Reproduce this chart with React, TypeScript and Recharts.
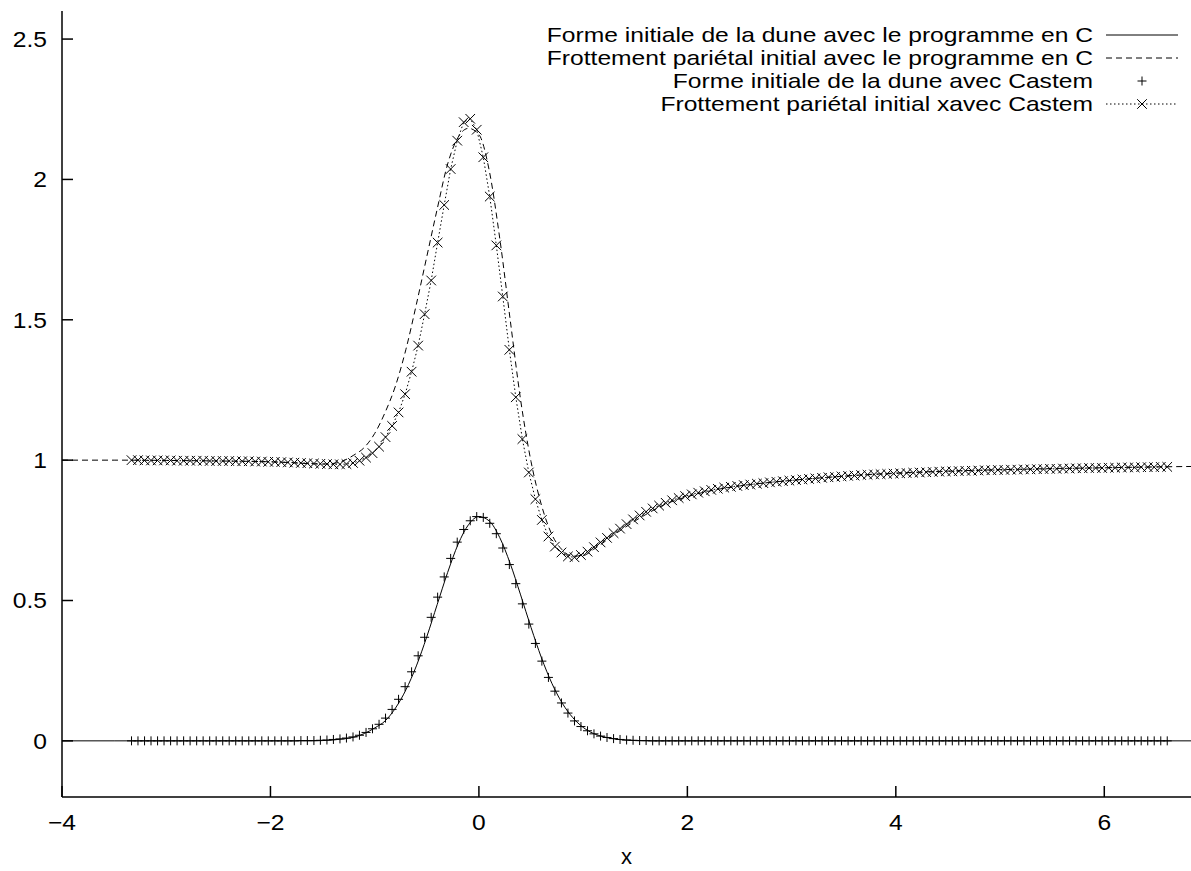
import React from 'react';
import { LineChart, Line, XAxis, YAxis, Legend } from 'recharts';

// Castem mesh (points drawn with markers)
const castemX = [
  -3.333, -3.271, -3.208, -3.146, -3.083, -3.021, -2.958, -2.896, -2.833, -2.771, -2.708, -2.646, -2.583, -2.521, -2.458, -2.396,
  -2.333, -2.271, -2.208, -2.146, -2.083, -2.021, -1.958, -1.896, -1.833, -1.771, -1.708, -1.646, -1.583, -1.521, -1.458, -1.396,
  -1.333, -1.271, -1.208, -1.146, -1.083, -1.021, -0.958, -0.896, -0.833, -0.771, -0.708, -0.646, -0.583, -0.521, -0.458, -0.396,
  -0.333, -0.271, -0.208, -0.146, -0.083, -0.021, 0.042, 0.104, 0.167, 0.229, 0.292, 0.354, 0.417, 0.479, 0.542, 0.604,
  0.667, 0.729, 0.792, 0.854, 0.917, 0.979, 1.042, 1.104, 1.167, 1.229, 1.292, 1.354, 1.417, 1.479, 1.542, 1.604,
  1.667, 1.729, 1.792, 1.854, 1.917, 1.979, 2.042, 2.104, 2.167, 2.229, 2.292, 2.354, 2.417, 2.479, 2.542, 2.604,
  2.667, 2.729, 2.792, 2.854, 2.917, 2.979, 3.042, 3.104, 3.167, 3.229, 3.292, 3.354, 3.417, 3.479, 3.542, 3.604,
  3.667, 3.729, 3.792, 3.854, 3.917, 3.979, 4.042, 4.104, 4.167, 4.229, 4.292, 4.354, 4.417, 4.479, 4.542, 4.604,
  4.667, 4.729, 4.792, 4.854, 4.917, 4.979, 5.042, 5.104, 5.167, 5.229, 5.292, 5.354, 5.417, 5.479, 5.542, 5.604,
  5.667, 5.729, 5.792, 5.854, 5.917, 5.979, 6.042, 6.104, 6.167, 6.229, 6.292, 6.354, 6.417, 6.479, 6.542, 6.604,
];

const castemForme = [
  0, 0, 0, 0, 0, 0, 0, 0, 0, 0, 0, 0, 0, 0, 0, 0,
  0, 0, 0, 0, 0, 0, 0, 0, 0, 0, 0.001, 0.001, 0.001, 0.002, 0.003, 0.005,
  0.007, 0.01, 0.014, 0.02, 0.03, 0.043, 0.059, 0.081, 0.112, 0.148, 0.193, 0.246, 0.303, 0.369, 0.44, 0.512,
  0.584, 0.65, 0.708, 0.753, 0.784, 0.799, 0.796, 0.775, 0.738, 0.687, 0.628, 0.56, 0.488, 0.416, 0.347, 0.284,
  0.226, 0.177, 0.135, 0.099, 0.071, 0.051, 0.036, 0.025, 0.017, 0.012, 0.008, 0.005, 0.003, 0.002, 0.001, 0.001,
  0, 0, 0, 0, 0, 0, 0, 0, 0, 0, 0, 0, 0, 0, 0, 0,
  0, 0, 0, 0, 0, 0, 0, 0, 0, 0, 0, 0, 0, 0, 0, 0,
  0, 0, 0, 0, 0, 0, 0, 0, 0, 0, 0, 0, 0, 0, 0, 0,
  0, 0, 0, 0, 0, 0, 0, 0, 0, 0, 0, 0, 0, 0, 0, 0,
  0, 0, 0, 0, 0, 0, 0, 0, 0, 0, 0, 0, 0, 0, 0, 0,
];

const castemFrott = [
  1.0, 1.0, 0.999, 0.999, 0.999, 0.999, 0.999, 0.998, 0.998, 0.998, 0.998, 0.998, 0.997, 0.997, 0.997, 0.997,
  0.996, 0.996, 0.996, 0.995, 0.995, 0.994, 0.994, 0.993, 0.992, 0.991, 0.99, 0.989, 0.988, 0.987, 0.986, 0.985,
  0.985, 0.986, 0.99, 0.998, 1.009, 1.025, 1.048, 1.082, 1.122, 1.17, 1.235, 1.315, 1.408, 1.52, 1.64, 1.775,
  1.909, 2.037, 2.138, 2.204, 2.216, 2.177, 2.079, 1.939, 1.765, 1.583, 1.393, 1.224, 1.075, 0.956, 0.861, 0.787,
  0.728, 0.692, 0.671, 0.657, 0.654, 0.662, 0.674, 0.69, 0.707, 0.723, 0.74, 0.756, 0.772, 0.789, 0.803, 0.816,
  0.828, 0.838, 0.848, 0.857, 0.865, 0.872, 0.878, 0.884, 0.889, 0.894, 0.898, 0.902, 0.905, 0.908, 0.911, 0.913,
  0.916, 0.918, 0.921, 0.923, 0.925, 0.927, 0.929, 0.931, 0.933, 0.935, 0.937, 0.939, 0.94, 0.942, 0.944, 0.945,
  0.947, 0.948, 0.949, 0.95, 0.951, 0.952, 0.953, 0.954, 0.955, 0.956, 0.957, 0.958, 0.959, 0.96, 0.96, 0.961,
  0.962, 0.962, 0.963, 0.964, 0.964, 0.965, 0.965, 0.966, 0.966, 0.967, 0.967, 0.968, 0.968, 0.969, 0.969, 0.97,
  0.97, 0.971, 0.971, 0.972, 0.972, 0.972, 0.973, 0.973, 0.974, 0.974, 0.974, 0.975, 0.975, 0.975, 0.976, 0.976,
];

// C program curves
const cX = [
  -4, -3.5, -3, -2.5, -2, -1.8, -1.6, -1.5, -1.4, -1.3, -1.2, -1.1, -1.0, -0.9, -0.8, -0.7, -0.6, -0.5, -0.4, -0.3, -0.2, -0.1,
  0, 0.1, 0.2, 0.3, 0.4, 0.5, 0.6, 0.7, 0.8, 0.9, 1.0, 1.1, 1.2, 1.3, 1.4, 1.5, 1.6, 1.8, 2.0, 2.25, 2.5, 3, 3.5, 4, 4.5, 5, 5.5, 6, 6.5, 7,
];
const cForme = [
  0, 0, 0, 0, 0, 0, 0, 0.001, 0.003, 0.007, 0.013, 0.026, 0.046, 0.071, 0.117, 0.182, 0.267, 0.371, 0.486, 0.6, 0.7, 0.77,
  0.799, 0.783, 0.724, 0.632, 0.52, 0.404, 0.296, 0.205, 0.134, 0.083, 0.048, 0.026, 0.014, 0.007, 0.003, 0.001, 0, 0, 0, 0, 0, 0, 0, 0, 0, 0, 0, 0, 0, 0,
];
const cFrott = [
  1.0, 1.0, 0.999, 0.997, 0.994, 0.991, 0.987, 0.986, 0.988, 0.998, 1.018, 1.045, 1.095, 1.17, 1.265, 1.395, 1.555, 1.725, 1.895, 2.055, 2.15, 2.182,
  2.16, 2.03, 1.79, 1.5, 1.215, 0.995, 0.84, 0.735, 0.68, 0.658, 0.66, 0.682, 0.708, 0.735, 0.76, 0.784, 0.806, 0.845, 0.87, 0.893, 0.908, 0.928, 0.943, 0.954, 0.961, 0.966, 0.97, 0.973, 0.976, 0.978,
];

const xTicks = [-4, -2, 0, 2, 4, 6];
const yTicks = [0, 0.5, 1, 1.5, 2, 2.5];
const seriesNames = [
  'Forme initiale de la dune avec le programme en C',
  'Frottement pariétal initial avec le programme en C',
  'Forme initiale de la dune avec Castem',
  'Frottement pariétal initial xavec Castem',
];

const FONT = '"Liberation Sans", Arial, Helvetica, sans-serif';
const FS = 22;
const STRETCH = 1.12; // the original Helvetica is wider than it is tall
const LEG_FS = 20.5;
const LEG_STRETCH = (STRETCH * FS) / LEG_FS;

const cData = cX.map((x, i) => ({ x, forme: cForme[i], frott: cFrott[i] }));
const castemData = castemX.map((x, i) => ({ x, forme: castemForme[i], frott: castemFrott[i] }));

const plusPath = (cx: number, cy: number, r = 4.5) =>
  `M${cx - r},${cy}H${cx + r}M${cx},${cy - r}V${cy + r}`;
const crossPath = (cx: number, cy: number, r = 4.8) =>
  `M${cx - r},${cy - r}L${cx + r},${cy + r}M${cx - r},${cy + r}L${cx + r},${cy - r}`;

const PlusDot = (props: any) => {
  const { cx, cy, index } = props;
  if (cx == null || cy == null) return <g key={`p${index}`} />;
  return <path key={`p${index}`} d={plusPath(cx, cy)} stroke="#000" strokeWidth={1} fill="none" />;
};

const CrossDot = (props: any) => {
  const { cx, cy, index } = props;
  if (cx == null || cy == null) return <g key={`c${index}`} />;
  return <path key={`c${index}`} d={crossPath(cx, cy)} stroke="#000" strokeWidth={1} fill="none" />;
};

const fmtX = (v: number) => (v < 0 ? `\u2212${Math.abs(v)}` : `${v}`);

const XTick = (props: any) => {
  const { x, y, payload } = props;
  return (
    <g transform={`translate(${x},${y}) scale(${STRETCH},1)`}>
      <text x={0} y={0} dy="0.71em" textAnchor="middle" fontFamily={FONT} fontSize={FS} fill="#000">
        {fmtX(payload.value)}
      </text>
    </g>
  );
};

const YTick = (props: any) => {
  const { x, y, payload } = props;
  return (
    <g transform={`translate(${x},${y}) scale(${STRETCH},1)`}>
      <text x={0} y={0} dy="0.355em" textAnchor="end" fontFamily={FONT} fontSize={FS} fill="#000">
        {payload.value}
      </text>
    </g>
  );
};

const LegendBox = () => {
  const textRight = 1093;
  const x1 = 1106;
  const x2 = 1178;
  const xm = (x1 + x2) / 2;
  return (
    <svg width={1191} height={120} style={{ display: 'block' }}>
      {seriesNames.map((name, i) => {
        const y = 35 + i * 23;
        return (
          <g key={name}>
            <g transform={`translate(${textRight},${y}) scale(${LEG_STRETCH},1)`}>
              <text x={0} y={0} dy="0.355em" textAnchor="end" fontFamily={FONT} fontSize={LEG_FS} fill="#000">
                {name}
              </text>
            </g>
            {i === 0 && <line x1={x1} x2={x2} y1={y} y2={y} stroke="#000" strokeWidth={1} />}
            {i === 1 && (
              <line x1={x1} x2={x2} y1={y} y2={y} stroke="#000" strokeWidth={1} strokeDasharray="6 4" />
            )}
            {i === 2 && <path d={plusPath(xm, y)} stroke="#000" strokeWidth={1} />}
            {i === 3 && (
              <g>
                <line x1={x1} x2={x2} y1={y} y2={y} stroke="#000" strokeWidth={1} strokeDasharray="1.5 2.5" />
                <path d={crossPath(xm, y)} stroke="#000" strokeWidth={1} />
              </g>
            )}
          </g>
        );
      })}
    </svg>
  );
};

export default function App() {
  return (
    <div style={{ position: 'absolute', left: 0, top: 0, width: 1191, height: 871, background: '#fff' }}>
      <LineChart width={1191} height={871} margin={{ top: 11, right: 0, bottom: 0, left: 0 }}>
        <XAxis
          dataKey="x"
          type="number"
          domain={[-4, 6.832]}
          ticks={xTicks}
          allowDataOverflow
          height={74}
          tickSize={-11}
          tickMargin={28}
          tick={<XTick />}
          axisLine={{ stroke: '#000', strokeWidth: 1.5 }}
          tickLine={{ stroke: '#000', strokeWidth: 1.5 }}
          label={{ value: 'x', position: 'insideBottom', offset: 7, style: { fontFamily: FONT, fontSize: FS, fill: '#000' } }}
        />
        <XAxis
          xAxisId="top"
          orientation="top"
          dataKey="x"
          type="number"
          domain={[-4, 6.832]}
          ticks={xTicks}
          allowDataOverflow
          height={0}
          tickSize={-11}
          tick={false}
          axisLine={{ stroke: '#000', strokeWidth: 1.5 }}
          tickLine={{ stroke: '#000', strokeWidth: 1.5 }}
        />
        <YAxis
          type="number"
          domain={[-0.2, 2.6]}
          ticks={yTicks}
          allowDataOverflow
          width={62}
          tickSize={-11}
          tickMargin={26}
          tick={<YTick />}
          axisLine={{ stroke: '#000', strokeWidth: 1.5 }}
          tickLine={{ stroke: '#000', strokeWidth: 1.5 }}
        />
        <Legend
          content={LegendBox}
          layout="horizontal"
          verticalAlign="middle"
          align="center"
          wrapperStyle={{ left: 0, top: 0, width: 1191, height: 120 }}
        />
        <Line
          data={cData}
          dataKey="forme"
          name={seriesNames[0]}
          type="monotone"
          stroke="#000"
          strokeWidth={1}
          dot={false}
          activeDot={false}
          isAnimationActive={false}
        />
        <Line
          data={cData}
          dataKey="frott"
          name={seriesNames[1]}
          type="monotone"
          stroke="#000"
          strokeWidth={1}
          strokeDasharray="6 4"
          dot={false}
          activeDot={false}
          isAnimationActive={false}
        />
        <Line
          data={castemData}
          dataKey="forme"
          name={seriesNames[2]}
          stroke="none"
          dot={PlusDot}
          activeDot={false}
          isAnimationActive={false}
        />
        <Line
          data={castemData}
          dataKey="frott"
          name={seriesNames[3]}
          type="linear"
          stroke="#000"
          strokeWidth={1}
          strokeDasharray="1.5 2.5"
          dot={CrossDot}
          activeDot={false}
          isAnimationActive={false}
        />
      </LineChart>
    </div>
  );
}
